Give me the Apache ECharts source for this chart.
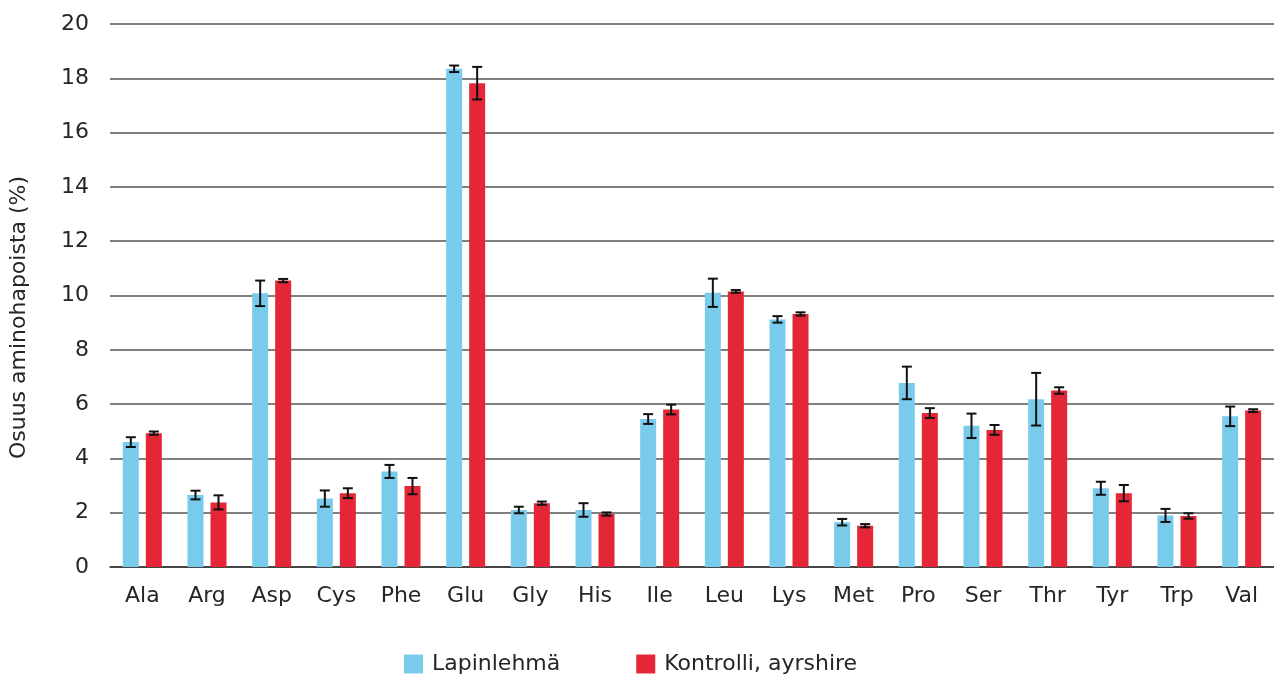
<!DOCTYPE html>
<html>
<head>
<meta charset="utf-8">
<script src="https://cdn.jsdelivr.net/npm/echarts@6/dist/echarts.min.js"></script>
<style>
  html, body { margin: 0; padding: 0; background: #fff; }
  #chart { width: 1274px; height: 679px; }
</style>
</head>
<body>
<div id="chart"></div>
<script>
// Amino acid share (%) of total amino acids, mean and error
const categories = ['Ala', 'Arg', 'Asp', 'Cys', 'Phe', 'Glu', 'Gly', 'His', 'Ile', 'Leu', 'Lys', 'Met', 'Pro', 'Ser', 'Thr', 'Tyr', 'Trp', 'Val'];
const seriesNames = ['Lapinlehmä', 'Kontrolli, ayrshire'];
const lapinValues = [4.6, 2.65, 10.08, 2.52, 3.52, 18.35, 2.1, 2.1, 5.45, 10.1, 9.12, 1.65, 6.78, 5.2, 6.18, 2.9, 1.9, 5.55];
const lapinErrors = [0.18, 0.16, 0.47, 0.3, 0.24, 0.12, 0.12, 0.25, 0.18, 0.52, 0.12, 0.12, 0.6, 0.45, 0.97, 0.24, 0.24, 0.36];
const kontrolliValues = [4.93, 2.38, 10.55, 2.72, 2.98, 17.82, 2.35, 1.95, 5.8, 10.15, 9.32, 1.52, 5.67, 5.05, 6.5, 2.72, 1.88, 5.76];
const kontrolliErrors = [0.06, 0.26, 0.06, 0.18, 0.3, 0.6, 0.06, 0.06, 0.18, 0.05, 0.06, 0.06, 0.18, 0.18, 0.12, 0.3, 0.1, 0.05];
const yTicks = [0, 2, 4, 6, 8, 10, 12, 14, 16, 18, 20];

const BLUE = '#79CBEC';
const RED = '#E42637';
const FONT = 'DejaVu Sans';
const TEXT = '#262626';
const BAR_W = 16;
const GAP_PX = 7;
const OFFSET = (BAR_W + GAP_PX) / 2;

// Error bars drawn beside each bar of the grouped pair
function errorSeries(values, errors, dir) {
  return {
    type: 'custom',
    z: 10,
    silent: true,
    data: values.map((v, i) => [i, v - errors[i], v + errors[i]]),
    renderItem: function (params, api) {
      const i = api.value(0);
      const lo = api.coord([i, api.value(1)]);
      const hi = api.coord([i, api.value(2)]);
      const x = lo[0] + dir * OFFSET;
      const cap = 5;
      const style = { stroke: '#111', lineWidth: 2 };
      return {
        type: 'group',
        children: [
          { type: 'line', shape: { x1: x, y1: lo[1], x2: x, y2: hi[1] }, style: style },
          { type: 'line', shape: { x1: x - cap, y1: lo[1], x2: x + cap, y2: lo[1] }, style: style },
          { type: 'line', shape: { x1: x - cap, y1: hi[1], x2: x + cap, y2: hi[1] }, style: style }
        ]
      };
    }
  };
}

const chart = echarts.init(document.getElementById('chart'), null, { renderer: 'canvas' });
chart.setOption({
  animation: false,
  textStyle: { fontFamily: FONT },
  grid: { left: 109, right: 0, top: 24, bottom: 112, containLabel: false },
  legend: {
    data: seriesNames,
    left: 399,
    top: 648,
    icon: 'rect',
    itemWidth: 19,
    itemHeight: 19,
    itemGap: 76,
    textStyle: { fontFamily: FONT, fontSize: 22, color: TEXT, padding: [0, 0, 0, 4] }
  },
  xAxis: {
    type: 'category',
    data: categories,
    axisTick: { show: false },
    axisLine: { show: true, lineStyle: { color: '#333', width: 1.5 } },
    axisLabel: { fontFamily: FONT, fontSize: 22, color: TEXT, margin: 18 }
  },
  yAxis: {
    type: 'value',
    min: yTicks[0],
    max: yTicks[yTicks.length - 1],
    interval: 2,
    name: 'Osuus aminohapoista (%)',
    nameLocation: 'middle',
    nameGap: 80,
    nameRotate: 90,
    nameTextStyle: { fontFamily: FONT, fontSize: 22, color: TEXT, padding: [0, 44, 0, 0] },
    axisLine: { show: false },
    axisTick: { show: false },
    axisLabel: { fontFamily: FONT, fontSize: 22, color: TEXT, margin: 21 },
    splitLine: { show: true, lineStyle: { color: '#555', width: 1.5 } }
  },
  series: [
    { name: seriesNames[0], type: 'bar', data: lapinValues, barWidth: BAR_W, barGap: (GAP_PX / BAR_W * 100) + '%', itemStyle: { color: BLUE } },
    { name: seriesNames[1], type: 'bar', data: kontrolliValues, barWidth: BAR_W, itemStyle: { color: RED } },
    errorSeries(lapinValues, lapinErrors, -1),
    errorSeries(kontrolliValues, kontrolliErrors, 1)
  ]
});
</script>
</body>
</html>
